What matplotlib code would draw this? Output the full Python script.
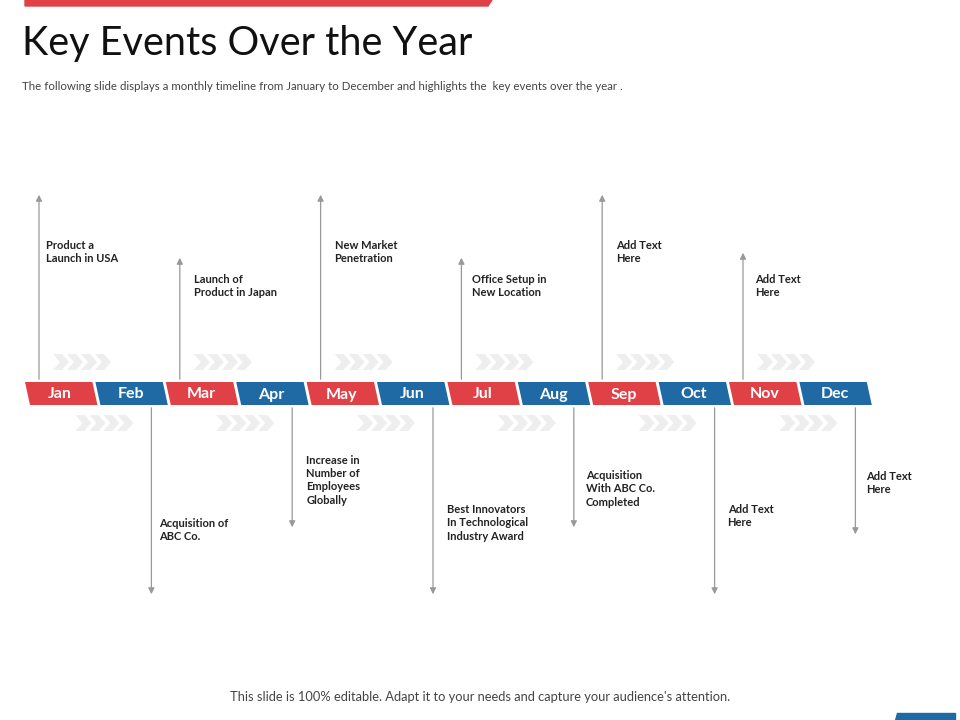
import matplotlib
matplotlib.use("Agg")
import matplotlib.pyplot as plt
from matplotlib.patches import Polygon

months = ["Jan","Feb","Mar","Apr","May","Jun","Jul","Aug","Sep","Oct","Nov","Dec"]
events = ["Product a\nLaunch in USA", "Acquisition of\nABC Co.", "Launch of\nProduct in Japan",
          "Increase in\nNumber of\nEmployees\nGlobally", "New Market\nPenetration",
          "Best Innovators\nIn Technological\nIndustry Award", "Office Setup in\nNew Location",
          "Acquisition\nWith ABC Co.\nCompleted", "Add Text\nHere", "Add Text\nHere",
          "Add Text\nHere", "Add Text\nHere"]
# layout (pixels): arrow end y, text top y, text x offset
arrow_end = [192, 597, 255, 530, 192, 597, 255, 530, 192, 597, 250, 537]
text_top = [240, 518, 274, 455, 240, 504, 274, 470, 240, 504, 274, 471]
text_dx = [7, 8, 14, 14, 14, 14, 11, 12, 14, 13, 12, 11]

RED = "#e04146"; BLUE = "#1f6aa5"; GRAY = "#999999"; CHEV = "#eeeeee"

fig = plt.figure(figsize=(9.6, 7.2), dpi=100)
ax = fig.add_axes([0, 0, 1, 1])
ax.set_xlim(0, 960); ax.set_ylim(720, 0); ax.axis("off")

ax.add_patch(Polygon([(25, 0), (492, 0), (488, 6), (25, 6)], color=RED))
ax.add_patch(Polygon([(897, 713), (955, 713), (955, 720), (895, 720)], color=BLUE))
ax.text(22, 43, "Key Events Over the Year", fontsize=28.5, family="Lato", va="center", color="#111111")
ax.text(22, 87, "The following slide displays a monthly timeline from January to December and highlights the  key events over the year .",
        fontsize=8.3, color="#444444", va="center", family="Lato")
ax.text(480, 697, "This slide is 100% editable. Adapt it to your needs and capture your audience's attention.",
        fontsize=9.3, color="#444444", ha="center", va="center", family="Lato")

x0, w, yt, yb, sl = 25, 70.4, 382, 405, 5
def chevrons(xs, y):
    for k in range(4):
        x = xs + k * 14
        ax.add_patch(Polygon([(x, y - 8), (x + 9, y - 8), (x + 16, y), (x + 9, y + 8), (x, y + 8), (x + 7, y)],
                             color=CHEV, lw=0))

for i, m in enumerate(months):
    L = x0 + i * w
    ax.add_patch(Polygon([(L, yt), (L + w - 3, yt), (L + w - 3 + sl, yb), (L + sl, yb)],
                         color=RED if i % 2 == 0 else BLUE, lw=0))
    ax.text(L + w / 2, (yt + yb) / 2 + 1, m, color="white", fontsize=11.5, fontweight="bold",
            ha="center", va="center", family="Lato")
    cx = L + 14 if i % 2 == 0 else L + 56
    up = i % 2 == 0
    ys = yt if up else yb
    ax.annotate("", xy=(cx, arrow_end[i]), xytext=(cx, ys),
                arrowprops=dict(arrowstyle="-|>", color=GRAY, lw=0.9, mutation_scale=9))
    ax.text(cx + text_dx[i], text_top[i], events[i], fontsize=8, fontweight="bold", va="top",
            color="#222222", family="Lato", linespacing=1.25)
    if up:
        chevrons(L + 28, 362)
    else:
        chevrons(L - 20, 423)

fig.savefig("out.png", dpi=100)
